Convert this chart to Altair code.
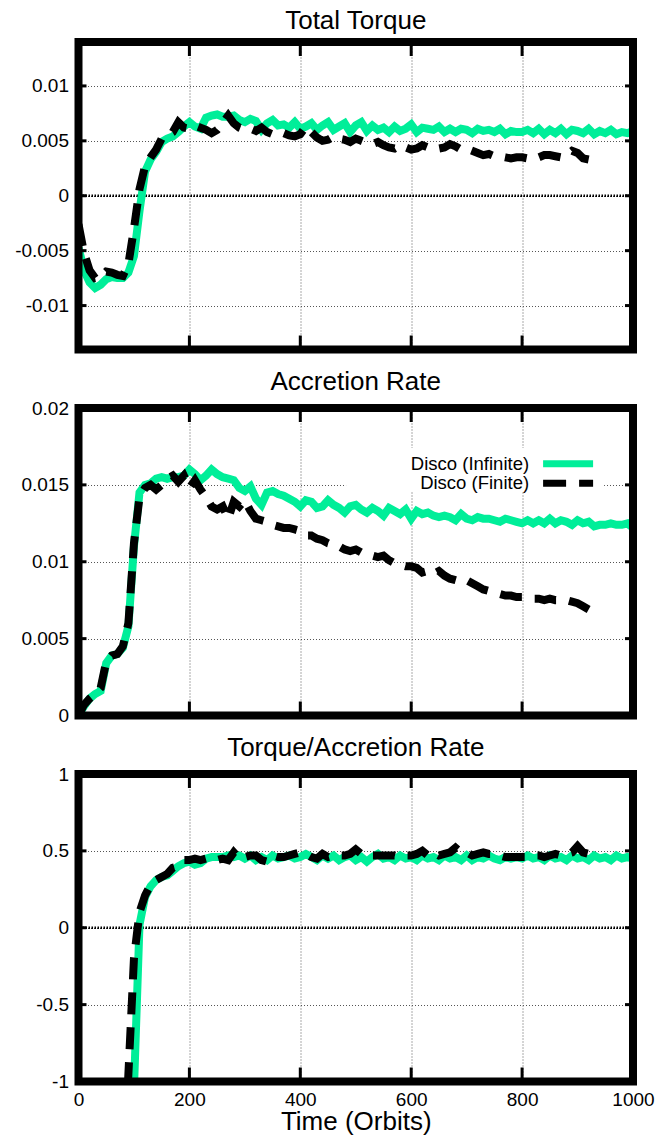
import altair as alt
import pandas as pd

STEP = 10
FONT = "Liberation Sans"
GREEN = "#00ee99"

# ---------------- data (t = start, start+10, ...) ----------------
torque_inf_start = 0
torque_inf = [-0.0047, -0.0068, -0.0079, -0.0084, -0.0081, -0.0076, -0.0074, -0.0075, -0.0075, -0.0070,
              -0.0055, -0.0014, 0.0022, 0.0033, 0.0040, 0.0049, 0.0052, 0.0054, 0.0058, 0.0063,
              0.0067, 0.0063, 0.0061, 0.0071, 0.0073, 0.0074, 0.0072, 0.0072, 0.0073, 0.0069,
              0.0067, 0.0070, 0.0068, 0.0060, 0.0066, 0.0069, 0.0064, 0.0065, 0.0062, 0.0067,
              0.0061, 0.0063, 0.0066, 0.0060, 0.0064, 0.0067, 0.0060, 0.0063, 0.0066, 0.0058,
              0.0064, 0.0067, 0.0059, 0.0064, 0.0060, 0.0062, 0.0058, 0.0063, 0.0059, 0.0061,
              0.0065, 0.0058, 0.0062, 0.0061, 0.0060, 0.0063, 0.0058, 0.0061, 0.0058, 0.0061,
              0.0060, 0.0057, 0.0061, 0.0059, 0.0060, 0.0058, 0.0061, 0.0056, 0.0059, 0.0058,
              0.0058, 0.0060, 0.0057, 0.0061, 0.0056, 0.0060, 0.0057, 0.0061, 0.0056, 0.0060,
              0.0059, 0.0057, 0.0061, 0.0056, 0.0059, 0.0057, 0.0060, 0.0056, 0.0058, 0.0057,
              0.0059]
torque_fin_start = 0
torque_fin = [-0.0026, -0.0052, -0.0068, -0.0075, -0.0074, -0.0069, -0.0070, -0.0072, -0.0073, -0.0062,
              -0.0030, 0.0006, 0.0027, 0.0035, 0.0042, 0.0052, 0.0055, 0.0058, 0.0067, 0.0062,
              0.0061, 0.0064, 0.0062, 0.0060, 0.0057, 0.0060, 0.0066, 0.0073, 0.0066, 0.0062,
              0.0060, 0.0061, 0.0059, 0.0062, 0.0058, 0.0056, 0.0055, 0.0057, 0.0055, 0.0054,
              0.0056, 0.0063, 0.0058, 0.0053, 0.0050, 0.0051, 0.0054, 0.0052, 0.0051, 0.0049,
              0.0052, 0.0050, 0.0048, 0.0047, 0.0049, 0.0046, 0.0044, 0.0043, 0.0046, 0.0044,
              0.0042, 0.0043, 0.0046, 0.0044, 0.0045, 0.0043, 0.0044, 0.0047, 0.0045, 0.0042,
              0.0043, 0.0041, 0.0039, 0.0037, 0.0038, 0.0036, 0.0036, 0.0035, 0.0034, 0.0035,
              0.0035, 0.0034, 0.0036, 0.0035, 0.0037, 0.0037, 0.0036, 0.0035, 0.0037, 0.0041,
              0.0039, 0.0034, 0.0033]

accr_inf_start = 0
accr_inf = [0.0000, 0.0006, 0.0011, 0.0014, 0.0016, 0.0034, 0.0039, 0.0040, 0.0044, 0.0058,
            0.0110, 0.0145, 0.0150, 0.0151, 0.0154, 0.0155, 0.0154, 0.0155, 0.0155, 0.0156,
            0.0160, 0.0157, 0.0153, 0.0156, 0.0160, 0.0157, 0.0155, 0.0154, 0.0153, 0.0148,
            0.0146, 0.0149, 0.0141, 0.0137, 0.0145, 0.0146, 0.0144, 0.0143, 0.0141, 0.0139,
            0.0136, 0.0140, 0.0139, 0.0135, 0.0136, 0.0140, 0.0137, 0.0135, 0.0132, 0.0136,
            0.0137, 0.0134, 0.0132, 0.0135, 0.0133, 0.0130, 0.0135, 0.0133, 0.0131, 0.0134,
            0.0128, 0.0133, 0.0131, 0.0132, 0.0130, 0.0129, 0.0130, 0.0129, 0.0127, 0.0131,
            0.0128, 0.0127, 0.0129, 0.0128, 0.0128, 0.0127, 0.0126, 0.0128, 0.0127, 0.0126,
            0.0125, 0.0127, 0.0125, 0.0127, 0.0125, 0.0128, 0.0125, 0.0127, 0.0126, 0.0124,
            0.0127, 0.0125, 0.0126, 0.0123, 0.0124, 0.0124, 0.0125, 0.0124, 0.0124, 0.0125,
            0.0122]
accr_fin_start = 0
accr_fin = [0.0000, 0.0007, 0.0011, 0.0014, 0.0018, 0.0035, 0.0039, 0.0040, 0.0045, 0.0060,
            0.0112, 0.0142, 0.0148, 0.0150, 0.0147, 0.0150, 0.0154, 0.0156, 0.0152, 0.0156,
            0.0148, 0.0153, 0.0147, 0.0142, 0.0136, 0.0134, 0.0136, 0.0128, 0.0139, 0.0136,
            0.0140, 0.0133, 0.0128, 0.0127, 0.0126, 0.0124, 0.0123, 0.0122, 0.0122, 0.0121,
            0.0120, 0.0117, 0.0117, 0.0115, 0.0114, 0.0112, 0.0111, 0.0110, 0.0108, 0.0107,
            0.0108, 0.0106, 0.0105, 0.0104, 0.0103, 0.0104, 0.0101, 0.0099, 0.0098, 0.0097,
            0.0097, 0.0096, 0.0093, 0.0094, 0.0092, 0.0094, 0.0091, 0.0089, 0.0088, 0.0087,
            0.0088, 0.0086, 0.0084, 0.0082, 0.0081, 0.0080, 0.0079, 0.0078, 0.0078, 0.0077,
            0.0077, 0.0077, 0.0076, 0.0076, 0.0075, 0.0076, 0.0075, 0.0075, 0.0075, 0.0074,
            0.0073, 0.0071, 0.0069]

ratio_inf_start = 90
ratio_inf = [-1.6, -1.05, 0.02, 0.20, 0.27, 0.31, 0.33, 0.34, 0.37, 0.40,
             0.42, 0.43, 0.41, 0.42, 0.45, 0.46, 0.46, 0.46, 0.47, 0.46,
             0.47, 0.45, 0.47, 0.44, 0.46, 0.44, 0.47, 0.45, 0.46, 0.47,
             0.45, 0.46, 0.48, 0.46, 0.44, 0.47, 0.45, 0.47, 0.44, 0.46,
             0.47, 0.44, 0.46, 0.43, 0.46, 0.48, 0.45, 0.46, 0.44, 0.47,
             0.45, 0.46, 0.44, 0.47, 0.45, 0.46, 0.44, 0.47, 0.45, 0.46,
             0.44, 0.47, 0.44, 0.46, 0.45, 0.47, 0.45, 0.44, 0.46, 0.45,
             0.46, 0.45, 0.47, 0.45, 0.46, 0.44, 0.47, 0.45, 0.46, 0.44,
             0.47, 0.45, 0.46, 0.44, 0.47, 0.45, 0.46, 0.44, 0.47, 0.45,
             0.46, 0.45]
ratio_fin_start = 80
ratio_fin = [-1.7, -0.95, -0.2, 0.10, 0.21, 0.28, 0.31, 0.33, 0.35, 0.39,
             0.40, 0.44, 0.44, 0.45, 0.44, 0.45, 0.44, 0.44, 0.45, 0.44,
             0.49, 0.45, 0.46, 0.47, 0.47, 0.44, 0.43, 0.47, 0.46, 0.46,
             0.47, 0.48, 0.49, 0.48, 0.46, 0.45, 0.48, 0.46, 0.47, 0.47,
             0.47, 0.48, 0.51, 0.48, 0.47, 0.47, 0.47, 0.47, 0.47, 0.47,
             0.46, 0.47, 0.47, 0.48, 0.50, 0.47, 0.49, 0.47, 0.48, 0.49,
             0.52, 0.49, 0.49, 0.47, 0.48, 0.49, 0.48, 0.48, 0.47, 0.46,
             0.46, 0.46, 0.46, 0.46, 0.47, 0.47, 0.46, 0.47, 0.48, 0.47,
             0.48, 0.49, 0.53, 0.49, 0.48]

titles = ["Total Torque", "Accretion Rate", "Torque/Accretion Rate"]
y_domains = [[-0.014, 0.014], [0.0, 0.02], [-1.0, 1.0]]
y_ticks = [[-0.01, -0.005, 0, 0.005, 0.01], [0, 0.005, 0.01, 0.015, 0.02], [-1, -0.5, 0, 0.5, 1]]
x_ticks = [0, 200, 400, 600, 800, 1000]
legend_labels = ["Disco (Infinite)", "Disco (Finite)"]
x_label = "Time (Orbits)"

W, H = 554.5, 307.5


def series(start, vals):
    return pd.DataFrame({"t": [start + STEP * i for i in range(len(vals))], "v": vals})


def panel(idx, green_df, black_df, bottom=False, legend=False):
    xs = alt.Scale(domain=[0, 1000], nice=False, zero=False)
    ys = alt.Scale(domain=y_domains[idx], nice=False, zero=False)
    grid_kw = dict(grid=True, gridColor="#555555", gridDash=[1, 2], gridWidth=1)
    if bottom:
        xa = alt.Axis(values=x_ticks, title=x_label, labels=True, ticks=False, tickSize=0,
                      domain=False, labelPadding=9, labelFontSize=19, labelFlush=False,
                      labelExpr="'' + datum.value",
                      titleFontSize=26, titlePadding=-1, titleFontWeight="normal",
                      labelFont=FONT, titleFont=FONT, labelColor="black", titleColor="black",
                      **grid_kw)
    else:
        xa = alt.Axis(values=x_ticks, title=None, labels=False, ticks=False, domain=False,
                      **grid_kw)
    ya = alt.Axis(values=y_ticks[idx], title=None, ticks=False, tickSize=0, domain=False,
                  labelPadding=10, labelFontSize=19, labelFlush=False, labelFont=FONT,
                  labelColor="black", labelExpr="'' + datum.value", **grid_kw)
    X = alt.X("t:Q", scale=xs, axis=xa)
    Y = alt.Y("v:Q", scale=ys, axis=ya)

    layers = []
    zero = alt.Chart(pd.DataFrame({"v": [0]})).mark_rule(
        color="black", strokeWidth=2.5, strokeDash=[1.5, 1.5]).encode(y=Y)
    layers.append(zero)

    layers.append(alt.Chart(green_df).mark_line(color=GREEN, strokeWidth=8, clip=True)
                  .encode(x=X, y=Y))
    layers.append(alt.Chart(black_df).mark_line(color="black", strokeWidth=8,
                                                strokeDash=[22, 13], clip=True)
                  .encode(x=X, y=Y))

    # inward tick marks
    xt = pd.DataFrame({"t": x_ticks[1:-1]})
    layers.append(alt.Chart(xt).mark_rule(color="black", strokeWidth=3)
                  .encode(x=X, y=alt.value(0), y2=alt.value(14)))
    layers.append(alt.Chart(xt).mark_rule(color="black", strokeWidth=3)
                  .encode(x=X, y=alt.value(H - 14), y2=alt.value(H)))
    yt = pd.DataFrame({"v": y_ticks[idx]})
    layers.append(alt.Chart(yt).mark_rule(color="black", strokeWidth=3)
                  .encode(y=Y, x=alt.value(0), x2=alt.value(8)))
    layers.append(alt.Chart(yt).mark_rule(color="black", strokeWidth=3)
                  .encode(y=Y, x=alt.value(W - 8), x2=alt.value(W)))

    if legend:
        one = pd.DataFrame({"a": [0]})
        layers.append(alt.Chart(one).mark_rect(fill="white").encode(
            x=alt.value(267.6), x2=alt.value(525.6), y=alt.value(40), y2=alt.value(83)))
        for i, (lab, col, dash) in enumerate(zip(legend_labels, [GREEN, "black"], [[1, 0], [23, 13]])):
            yy = 55.7 + 19.6 * i
            layers.append(alt.Chart(pd.DataFrame({"label": [lab]})).mark_text(
                align="right", baseline="middle", font=FONT, fontSize=18.5, color="black")
                .encode(text="label:N", x=alt.value(450.6), y=alt.value(yy)))
            layers.append(alt.Chart(one).mark_rule(color=col, strokeWidth=7, strokeDash=dash)
                          .encode(x=alt.value(464.6), x2=alt.value(514.6), y=alt.value(yy)))

    # frame on top
    layers.append(alt.Chart(pd.DataFrame({"a": [0]})).mark_rect(
        filled=False, stroke="black", strokeWidth=8).encode(
        x=alt.value(0), x2=alt.value(W), y=alt.value(0), y2=alt.value(H)))

    return alt.layer(*layers).properties(
        width=W, height=H,
        title=alt.TitleParams(titles[idx], font=FONT, fontSize=26, fontWeight="normal",
                              anchor="middle", frame="group", baseline="alphabetic",
                              offset=-17, color="black"))


p1 = panel(0, series(torque_inf_start, torque_inf), series(torque_fin_start, torque_fin))
p2 = panel(1, series(accr_inf_start, accr_inf), series(accr_fin_start, accr_fin), legend=True)
p3 = panel(2, series(ratio_inf_start, ratio_inf), series(ratio_fin_start, ratio_fin), bottom=True)

chart = alt.vconcat(p1, p2, p3, spacing=58, bounds="flush").properties(
    padding={"left": 5.5, "top": -1, "right": 5, "bottom": 0}
).configure_view(stroke=None).configure(background="white")

chart.save("out.html", embed_options={"renderer": "svg", "actions": False})
